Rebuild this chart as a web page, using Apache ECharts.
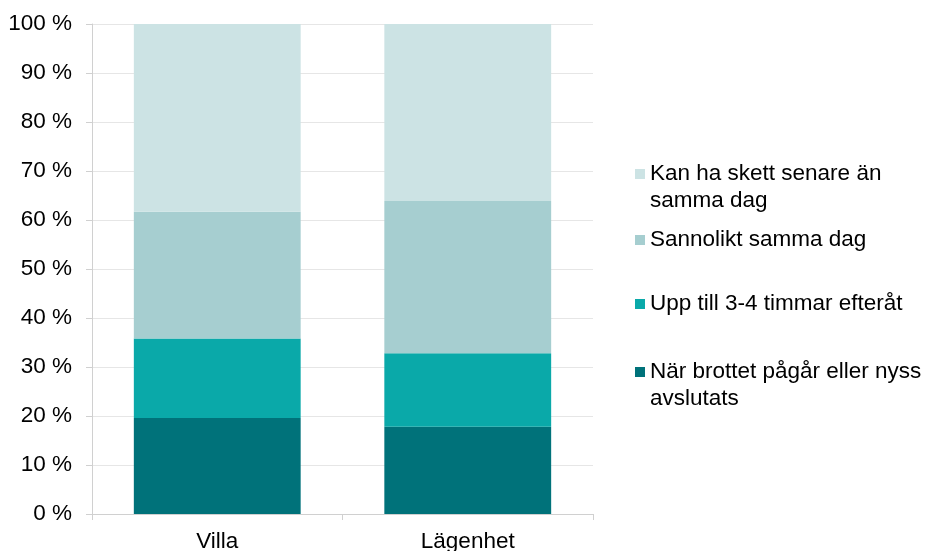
<!DOCTYPE html>
<html>
<head>
<meta charset="utf-8">
<script src="https://cdn.jsdelivr.net/npm/echarts@6/dist/echarts.min.js"></script>
<style>html,body{margin:0;padding:0;background:#fff}#c{width:925px;height:551px}</style>
</head>
<body>
<div id="c"></div>
<script>
const categories = ['Villa', 'Lägenhet'];
const seriesNames = [
  'När brottet pågår eller nyss avslutats',
  'Upp till 3-4 timmar efteråt',
  'Sannolikt samma dag',
  'Kan ha skett senare än samma dag'
];
const legendLabels = [
  'När brottet pågår eller nyss\navslutats',
  'Upp till 3-4 timmar efteråt',
  'Sannolikt samma dag',
  'Kan ha skett senare än\nsamma dag'
];
const nuNyss = [19.6, 17.8];
const upp34 = [16.2, 15.0];
const sammaDag = [25.9, 31.1];
const senare = [38.3, 36.1];
const yTicks = [0, 10, 20, 30, 40, 50, 60, 70, 80, 90, 100];

const values = [nuNyss, upp34, sammaDag, senare];
const colors = ['#00727A', '#0AA9A9', '#A6CED0', '#CCE3E4'];
const legendTops = [326.5, 285.5, 221.5, 128.5];
const font = '"Liberation Sans", Arial, sans-serif';
const fs = 22.5;

// multi-line legend labels get a blank first line so the icon sits beside the first text line
function legendText(s) {
  return s.indexOf('\n') >= 0 ? ' \n' + s : s;
}

const chart = echarts.init(document.getElementById('c'));
chart.setOption({
  animation: false,
  textStyle: { fontFamily: font },
  grid: { left: 92, right: 332, top: 24, bottom: 37, containLabel: false, outerBoundsMode: 'none' },
  xAxis: {
    type: 'category',
    data: categories,
    axisLine: { show: true, lineStyle: { color: '#d0d0d0', width: 1 } },
    axisTick: { show: true, length: 6, lineStyle: { color: '#d0d0d0' } },
    axisLabel: { color: '#000', fontSize: fs, fontFamily: font, margin: 16 },
    splitLine: { show: false }
  },
  yAxis: {
    type: 'value',
    min: yTicks[0],
    max: yTicks[yTicks.length - 1],
    interval: 10,
    axisLine: { show: true, lineStyle: { color: '#d0d0d0', width: 1 } },
    axisTick: { show: true, length: 6, lineStyle: { color: '#d0d0d0' } },
    axisLabel: { color: '#000', fontSize: fs, fontFamily: font, margin: 20, formatter: v => v + ' %' },
    splitLine: { show: true, lineStyle: { color: '#e6e6e6', width: 1 } }
  },
  legend: seriesNames.map((n, i) => ({
    data: [n],
    left: 630,
    top: legendTops[i],
    orient: 'vertical',
    icon: 'rect',
    itemWidth: 10,
    itemHeight: 10,
    itemGap: 0,
    selectedMode: false,
    formatter: () => legendText(legendLabels[i]),
    textStyle: { color: '#000', fontSize: fs, fontFamily: font, lineHeight: 27 }
  })),
  series: seriesNames.map((n, i) => ({
    name: n,
    type: 'bar',
    stack: 'total',
    data: values[i],
    barWidth: '66.6%',
    itemStyle: { color: colors[i] }
  }))
});
</script>
</body>
</html>
